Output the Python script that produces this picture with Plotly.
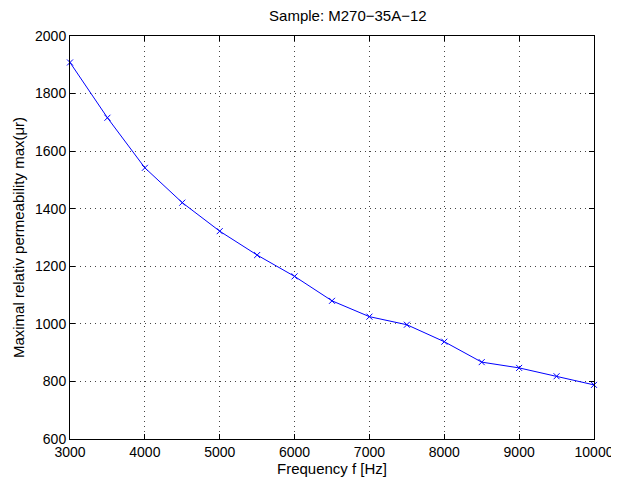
import plotly.graph_objects as go

freq = [3000, 3500, 4000, 4500, 5000, 5500, 6000, 6500, 7000, 7500, 8000, 8500, 9000, 9500, 10000]
mu_max = [1908, 1716, 1542, 1421, 1322, 1239, 1165, 1080, 1025, 997, 938, 867, 847, 818, 788]

x_ticks = [3000, 4000, 5000, 6000, 7000, 8000, 9000, 10000]
x_tick_labels = ["3000", "4000", "5000", "6000", "7000", "8000", "9000", "10000"]
y_ticks = [600, 800, 1000, 1200, 1400, 1600, 1800, 2000]
y_tick_labels = ["600", "800", "1000", "1200", "1400", "1600", "1800", "2000"]

font = "Liberation Sans, Arial, Helvetica, sans-serif"

# The page body has an 8px default margin; compensate so the plot box lands
# where the reference has it (left 70, right 594, top 36, bottom 439).
OFF = 8
W, H = 619 - OFF, 482 - OFF

fig = go.Figure()
fig.add_trace(go.Scatter(
    x=freq, y=mu_max, mode="lines+markers",
    line=dict(color="#0000ff", width=1),
    marker=dict(symbol="x-thin", size=6, color="#0000ff",
                line=dict(color="#0000ff", width=1)),
    showlegend=False,
    cliponaxis=False,
))

axis_common = dict(
    showline=True, linecolor="black", linewidth=1, mirror="ticks",
    ticks="inside", ticklen=5, tickcolor="black", tickwidth=1,
    showgrid=True, gridcolor="#444444", gridwidth=1, griddash="1px,4px",
    zeroline=False, automargin=False,
    tickfont=dict(family=font, size=14, color="black"),
)

fig.update_xaxes(range=[3000, 10000], tickvals=x_ticks, ticktext=x_tick_labels,
                 title=dict(text="Frequency f [Hz]", font=dict(family=font, size=15, color="black"), standoff=1),
                 **axis_common)
fig.update_yaxes(range=[600, 2000], tickvals=y_ticks, ticktext=y_tick_labels,
                 title=dict(text="Maximal relativ permeability max(μr)", font=dict(family=font, size=15, color="black"), standoff=6),
                 **axis_common)

fig.update_layout(
    width=W, height=H,
    margin=dict(l=70 - OFF, r=619 - 594, t=36 - OFF, b=482 - 439),
    paper_bgcolor="white", plot_bgcolor="white",
    title=dict(text="Sample: M270−35A−12", x=(332 - OFF) / W, xanchor="center", xref="paper",
               y=1, yref="container", yanchor="top",
               pad=dict(t=2),
               font=dict(family=font, size=15, color="black")),
)

fig.write_html("out.html")
